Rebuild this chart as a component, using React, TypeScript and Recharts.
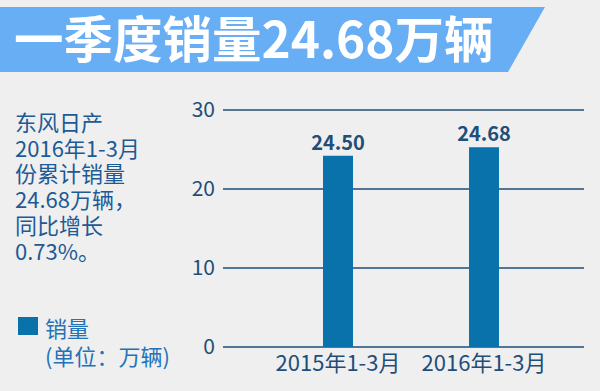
import { BarChart, Bar, XAxis, YAxis, CartesianGrid, LabelList } from "recharts";

const categories = ["2015年1-3月", "2016年1-3月"];
const barHeights = [24.2, 25.3];
const valueLabels = ["24.50", "24.68"];
const yTicks = [0, 10, 20, 30];

const data = categories.map((c, i) => ({ name: c, sales: barHeights[i], label: valueLabels[i] }));

const font = "'Noto Sans CJK SC', 'Noto Sans', sans-serif";
const navy = "#1f4e79";
const barBlue = "#0a72aa";

export default function App() {
  return (
    <div style={{ position: "absolute", left: 0, top: 0, width: 600, height: 391, background: "#efefef", overflow: "hidden", fontFamily: font }}>
      <svg width={600} height={80} style={{ position: "absolute", left: 0, top: 0 }}>
        <polygon points="0,7 545,7 508,72 0,72" fill="#68aef4" />
        <text x={14} y={58} fill="#ffffff" fontSize={49.5} fontWeight="bold" fontFamily={font}>一季度销量24.68万辆</text>
      </svg>

      <div style={{ position: "absolute", left: 15, top: 109, fontSize: 22, lineHeight: "25.7px", color: "#1d5a96", whiteSpace: "pre" }}>
        {"东风日产\n2016年1-3月\n份累计销量\n24.68万辆，\n同比增长\n0.73%。"}
      </div>

      <div style={{ position: "absolute", left: 18, top: 317, width: 20, height: 18, background: barBlue }} />
      <div style={{ position: "absolute", left: 45, top: 313, fontSize: 22, lineHeight: "28px", color: "#2472b8", whiteSpace: "pre" }}>
        {"销量\n(单位：万辆)"}
      </div>

      <div style={{ position: "absolute", left: 0, top: 0 }}>
        <BarChart width={600} height={391} data={data} margin={{ top: 110, right: 16, left: 173, bottom: 14 }}>
          <CartesianGrid horizontal vertical={false} stroke={navy} strokeWidth={1.6} />
          <XAxis
            dataKey="name"
            axisLine={false}
            tickLine={false}
            padding={{ left: 42, right: 27 }}
            height={30}
            tick={{ fontSize: 22, fill: navy, fontFamily: font }}
            interval={0}
          />
          <YAxis
            width={50}
            domain={[0, 30]}
            ticks={yTicks}
            axisLine={false}
            tickLine={false}
            tick={{ fontSize: 21, fill: navy, fontFamily: font }}
          />
          <Bar dataKey="sales" fill={barBlue} barSize={30} isAnimationActive={false}>
            <LabelList dataKey="label" position="top" offset={6} fill={navy} fontSize={20} fontWeight="bold" fontFamily={font} />
          </Bar>
        </BarChart>
      </div>
    </div>
  );
}
